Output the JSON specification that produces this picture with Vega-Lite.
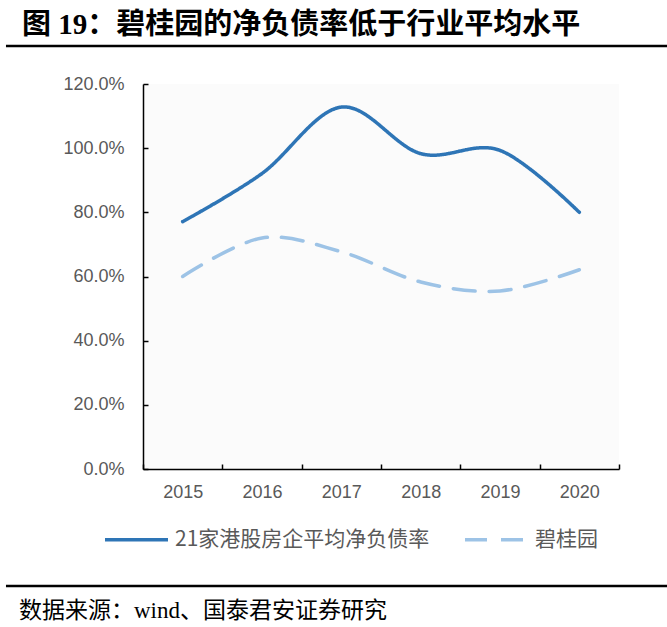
{
  "$schema": "https://vega.github.io/schema/vega-lite/v6.json",
  "padding": {"left": 4, "top": 10, "right": 0, "bottom": 0},
  "background": "white",
  "config": {
    "view": {"stroke": null},
    "legend": {
      "orient": "none",
      "direction": "horizontal",
      "symbolType": "stroke",
      "symbolSize": 3969,
      "symbolStrokeWidth": 3.5,
      "labelFont": "'Noto Sans CJK SC'",
      "labelFontSize": 21,
      "labelColor": "#595959",
      "labelLimit": 400,
      "labelOffset": 5,
      "columnPadding": 28
    }
  },
  "datasets": {
    "rates": [
      {"year": "2015", "series": "21家港股房企平均净负债率", "rate": 0.771},
      {"year": "2016", "series": "21家港股房企平均净负债率", "rate": 0.921},
      {"year": "2017", "series": "21家港股房企平均净负债率", "rate": 1.128},
      {"year": "2018", "series": "21家港股房企平均净负债率", "rate": 0.983},
      {"year": "2019", "series": "21家港股房企平均净负债率", "rate": 0.993},
      {"year": "2020", "series": "21家港股房企平均净负债率", "rate": 0.800},
      {"year": "2015", "series": "碧桂园", "rate": 0.600},
      {"year": "2016", "series": "碧桂园", "rate": 0.720},
      {"year": "2017", "series": "碧桂园", "rate": 0.677},
      {"year": "2018", "series": "碧桂园", "rate": 0.583},
      {"year": "2019", "series": "碧桂园", "rate": 0.555},
      {"year": "2020", "series": "碧桂园", "rate": 0.621}
    ]
  },
  "spacing": 27,
  "resolve": {
    "scale": {"color": "independent", "strokeDash": "independent"},
    "legend": {"color": "independent", "strokeDash": "independent"}
  },
  "vconcat": [
    {
      "width": 526,
      "height": 1,
      "data": {"values": [{"line": "top"}]},
      "title": {
        "text": "图 19：碧桂园的净负债率低于行业平均水平",
        "anchor": "start",
        "frame": "group",
        "font": "'Liberation Serif', 'Noto Sans CJK SC'",
        "fontSize": 29,
        "fontWeight": "bold",
        "color": "black",
        "offset": 5,
        "dx": -121
      },
      "mark": {"type": "rule", "color": "black", "strokeWidth": 2.5},
      "encoding": {
        "x": {"datum": -0.2605, "type": "quantitative", "scale": {"domain": [0, 1]}, "axis": null},
        "x2": {"datum": 1},
        "y": {"datum": 0, "type": "quantitative", "scale": {"domain": [0, 1]}, "axis": null}
      }
    },
    {
      "spacing": 34,
      "resolve": {
        "scale": {"color": "independent", "strokeDash": "independent"},
        "legend": {"color": "independent", "strokeDash": "independent"}
      },
      "vconcat": [
        {
          "width": 476,
          "height": 385,
          "view": {"fill": "#FBFBFB", "stroke": null},
          "data": {"name": "rates"},
          "mark": {"type": "line", "interpolate": "cardinal", "strokeWidth": 3.5, "strokeCap": "round"},
          "encoding": {
            "x": {
              "field": "year",
              "type": "ordinal",
              "bandPosition": 0.5,
              "scale": {"type": "band", "paddingInner": 0, "paddingOuter": 0},
              "axis": {
                "title": null,
                "labelAngle": 0,
                "tickBand": "extent",
                "tickSize": -5,
                "tickColor": "black",
                "tickWidth": 1.5,
                "domainColor": "black",
                "domainWidth": 1.5,
                "labelFont": "'Liberation Sans'",
                "labelFontSize": 18,
                "labelColor": "#595959",
                "labelPadding": 19
              }
            },
            "y": {
              "field": "rate",
              "type": "quantitative",
              "scale": {"domain": [0, 1.2]},
              "axis": {
                "title": null,
                "format": ".1%",
                "values": [0, 0.2, 0.4, 0.6, 0.8, 1.0, 1.2],
                "grid": false,
                "tickSize": -5,
                "tickColor": "black",
                "tickWidth": 1.5,
                "domainColor": "black",
                "domainWidth": 1.5,
                "labelFont": "'Liberation Sans'",
                "labelFontSize": 18,
                "labelColor": "#595959",
                "labelPadding": 24
              }
            },
            "color": {
              "field": "series",
              "type": "nominal",
              "scale": {"domain": ["21家港股房企平均净负债率", "碧桂园"], "range": ["#2E75B6", "#9DC3E6"]},
              "legend": {"title": null, "legendX": -40, "legendY": 422}
            },
            "strokeDash": {
              "field": "series",
              "type": "nominal",
              "scale": {"domain": ["21家港股房企平均净负债率", "碧桂园"], "range": [[1, 0], [22, 14]]},
              "legend": {"title": null, "legendX": -40, "legendY": 422}
            }
          }
        },
        {
          "width": 526,
          "height": 1,
          "data": {"values": [{"line": "bottom"}]},
          "title": {
            "text": "数据来源：wind、国泰君安证券研究",
            "orient": "bottom",
            "anchor": "start",
            "frame": "group",
            "font": "'Liberation Serif', 'Noto Sans CJK SC'",
            "fontSize": 23,
            "fontWeight": "normal",
            "color": "black",
            "offset": 13,
            "dx": -124
          },
          "mark": {"type": "rule", "color": "black", "strokeWidth": 2.5},
          "encoding": {
            "x": {"datum": -0.2605, "type": "quantitative", "scale": {"domain": [0, 1]}, "axis": null},
            "x2": {"datum": 1},
            "y": {"datum": 1, "type": "quantitative", "scale": {"domain": [0, 1]}, "axis": null}
          }
        }
      ]
    }
  ]
}
